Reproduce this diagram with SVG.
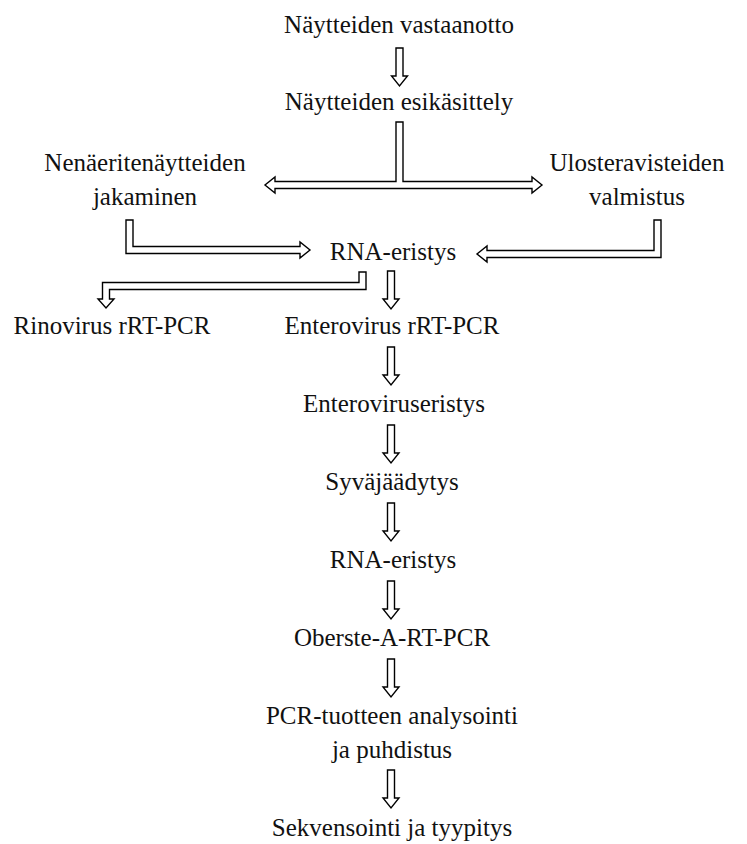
<svg xmlns="http://www.w3.org/2000/svg" xmlns:xlink="http://www.w3.org/1999/xlink" width="747" height="844" viewBox="0 0 747 844">
<style>
  .t { font-family: 'Liberation Serif', 'DejaVu Serif', 'Times New Roman', serif; font-size: 25px; fill: #111; text-anchor: middle; }
  .arr { fill: #fff; stroke: #000; stroke-width: 1.4; stroke-linejoin: miter; }
</style>
<defs>
  <path id="down" class="arr" d="M-3.5,0 H3.5 V28 H8 L0,38 L-8,28 H-3.5 Z"/>
</defs>
<rect width="747" height="844" fill="#fff"/>
<g id="connectors">
  <use xlink:href="#down" x="399.5" y="48"/>
  <polygon class="arr" points="396,122 403,122 403,181.5 532,181.5 532,177 542,185 532,193 532,188.5 275,188.5 275,193 265,185 275,177 275,181.5 396,181.5"/>
  <polygon class="arr" points="126,220 133,220 133,246.5 300,246.5 300,242 310,250 300,258 300,253.5 126,253.5"/>
  <polygon class="arr" points="654,220 661,220 661,257.5 487,257.5 487,262 477,254 487,246 487,250.5 654,250.5"/>
  <polygon class="arr" points="359,272 366,272 366,289.5 109.5,289.5 109.5,299 114,299 106,308 98,299 102.5,299 102.5,282.5 359,282.5"/>
  <use xlink:href="#down" x="391" y="271"/>
  <use xlink:href="#down" x="391" y="347"/>
  <use xlink:href="#down" x="391" y="425"/>
  <use xlink:href="#down" x="391" y="503"/>
  <use xlink:href="#down" x="391" y="581"/>
  <use xlink:href="#down" x="391" y="659"/>
  <use xlink:href="#down" x="391" y="770"/>
</g>
<g font-family="Liberation Serif, DejaVu Serif, serif" font-size="25" text-anchor="middle" fill="#111">
<g id="n1"><text class="t" x="399" y="33">Näytteiden vastaanotto</text></g>
<g id="n2"><text class="t" x="399" y="110">Näytteiden esikäsittely</text></g>
<g id="n3"><text class="t" x="145" y="171">Nenäeritenäytteiden</text><text class="t" x="145" y="205">jakaminen</text></g>
<g id="n4"><text class="t" x="637" y="171">Ulosteravisteiden</text><text class="t" x="637" y="205">valmistus</text></g>
<g id="n5"><text class="t" x="393" y="260">RNA-eristys</text></g>
<g id="n6"><text class="t" x="112" y="334">Rinovirus rRT-PCR</text></g>
<g id="n7"><text class="t" x="392" y="334">Enterovirus rRT-PCR</text></g>
<g id="n8"><text class="t" x="394" y="412">Enteroviruseristys</text></g>
<g id="n9"><text class="t" x="392" y="490">Syväjäädytys</text></g>
<g id="n10"><text class="t" x="393" y="568">RNA-eristys</text></g>
<g id="n11"><text class="t" x="392" y="646">Oberste-A-RT-PCR</text></g>
<g id="n12"><text class="t" x="392" y="724">PCR-tuotteen analysointi</text><text class="t" x="392" y="758">ja puhdistus</text></g>
<g id="n13"><text class="t" x="392" y="836">Sekvensointi ja tyypitys</text></g>
</g>
</svg>
